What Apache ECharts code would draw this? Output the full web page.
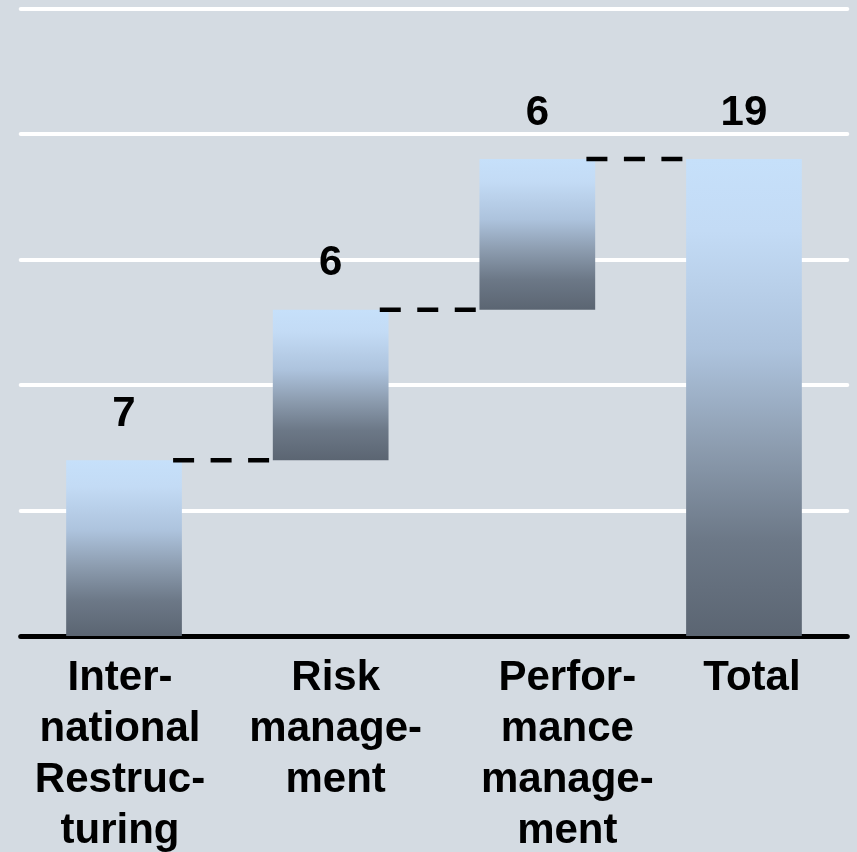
<!DOCTYPE html>
<html>
<head>
<meta charset="utf-8">
<title>Waterfall</title>
<script src="https://cdn.jsdelivr.net/npm/echarts@6/dist/echarts.min.js"></script>
<style>
  html, body { margin: 0; padding: 0; background: #d4dbe2; }
  #cht { width: 857px; height: 852px; }
</style>
</head>
<body>
<div id="cht"></div>
<script>
const categories = [
  'Inter-\nnational\nRestruc-\nturing',
  'Risk\nmanage-\nment',
  'Perfor-\nmance\nmanage-\nment',
  'Total',
];
// the three steps, then the total
const steps = [7, 6, 6];
const total = 19;
const yTicks = [0, 5, 10, 15, 20, 25];

// small horizontal nudges of the category labels, in px (layout only)
const labelShift = [-4, 5, 30, 8];

const values = steps.concat([total]);
// invisible base under each floating step
const bases = [];
let run = 0;
steps.forEach((v) => {
  bases.push(run);
  run += v;
});
bases.push(0);
// dashed connector levels between neighbouring bars
const levels = [];
run = 0;
steps.forEach((v, i) => {
  run += v;
  levels.push([i, run]);
});

const font = '"Liberation Sans", Arial, sans-serif';
const cht = echarts.init(document.getElementById('cht'));

const barColor = new echarts.graphic.LinearGradient(0, 0, 0, 1, [
  { offset: 0, color: '#c6e0fa' },
  { offset: 0.15, color: '#c3dbf5' },
  { offset: 0.4, color: '#adc3dd' },
  { offset: 0.6, color: '#8d9db0' },
  { offset: 0.8, color: '#6c7887' },
  { offset: 1, color: '#5b6572' },
]);

const axisData = categories.map((c, i) => {
  const s = labelShift[i];
  return {
    value: c,
    textStyle: {
      padding: s >= 0 ? [0, 0, 0, 2 * s] : [0, -2 * s, 0, 0],
    },
  };
});

/** @type {import("echarts").EChartsOption} */
const option = {
  backgroundColor: '#d4dbe2',
  animation: false,
  grid: {
    left: 20.7,
    right: 9.7,
    top: 8.5,
    bottom: 216,
    containLabel: false,
    outerBoundsMode: 'none',
  },
  xAxis: {
    type: 'category',
    data: axisData,
    offset: 2.5,
    axisLine: {
      lineStyle: { color: '#000', width: 5, cap: 'round' },
    },
    axisTick: { show: false },
    axisLabel: {
      interval: 0,
      margin: 14,
      color: '#000',
      fontFamily: font,
      fontWeight: 'bold',
      fontSize: 42,
      lineHeight: 51,
      hideOverlap: false,
    },
  },
  yAxis: {
    type: 'value',
    min: yTicks[0],
    max: yTicks[yTicks.length - 1],
    interval: yTicks[1] - yTicks[0],
    axisLine: { show: false },
    axisTick: { show: false },
    axisLabel: { show: false },
    splitLine: {
      lineStyle: { color: '#ffffff', width: 4, cap: 'round' },
    },
  },
  series: [
    {
      name: 'base',
      type: 'bar',
      stack: 'w',
      barWidth: '56%',
      itemStyle: { color: 'transparent' },
      silent: true,
      data: bases,
    },
    {
      name: 'value',
      type: 'bar',
      stack: 'w',
      barWidth: '56%',
      itemStyle: { color: barColor },
      label: {
        show: true,
        position: 'top',
        distance: 25,
        color: '#000',
        fontFamily: font,
        fontWeight: 'bold',
        fontSize: 42,
      },
      data: values,
    },
    {
      name: 'connector',
      type: 'custom',
      z: 5,
      silent: true,
      renderItem: (params, api) => {
        const p = api.coord([api.value(0), api.value(1)]);
        const band = api.size([1, 0])[0];
        const mid = p[0] + band / 2 - band * 0.03;
        const len = band * 0.465;
        return {
          type: 'line',
          shape: { x1: mid - len / 2, y1: p[1], x2: mid + len / 2, y2: p[1] },
          style: { stroke: '#000', lineWidth: 4.5, lineDash: [21, 16.5] },
        };
      },
      data: levels,
    },
  ],
};

cht.setOption(option);
</script>
</body>
</html>
